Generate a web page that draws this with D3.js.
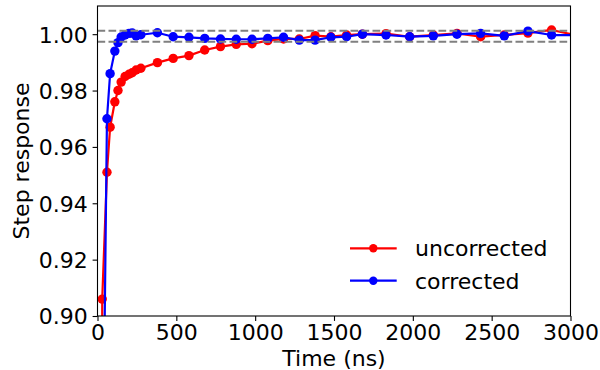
<!DOCTYPE html>
<html>
<head>
<meta charset="utf-8">
<script src="https://cdn.jsdelivr.net/npm/d3@7/dist/d3.min.js"></script>
<style>
  body { margin: 0; background: #fff; }
  svg text { font-family: "DejaVu Sans", sans-serif; fill: #000; }
</style>
</head>
<body>
<svg id="chart" width="600" height="370"></svg>
<script>
// Sample times (ns) shared by both traces
const timeNs = [0, 30, 60, 80, 110, 130, 150, 175, 200, 220, 245, 275,
  380, 480, 580, 680, 780, 880, 980, 1080, 1180, 1280, 1380, 1480, 1580,
  1680, 1830, 1980, 2130, 2280, 2430, 2580, 2730, 2880, 3030];

// Normalised step response before correction
const uncorrected = [0.0, 0.906, 0.951, 0.967, 0.976, 0.980, 0.983, 0.985,
  0.9858, 0.9863, 0.9873, 0.9879, 0.9899, 0.9914, 0.9924, 0.9944, 0.9956,
  0.9964, 0.9966, 0.9977, 0.9983, 0.9983, 0.9995, 0.9991, 0.9997, 1.0000,
  1.0002, 0.9991, 0.9997, 1.0003, 0.9991, 0.9997, 1.0004, 1.0015, 0.9997];

// Normalised step response after correction
const corrected = [0.0, 0.82, 0.970, 0.986, 0.994, 0.997, 0.999, 0.9997,
  1.0003, 1.0004, 0.9994, 0.9998, 1.0005, 0.9991, 0.9989, 0.9985, 0.9983,
  0.9982, 0.9982, 0.9985, 0.9989, 0.9979, 0.9979, 0.9989, 0.9991, 1.0000,
  0.9997, 0.9991, 0.9994, 1.0000, 1.0003, 0.9994, 1.0011, 0.9997, 0.9997];

// Tolerance band drawn as dashed horizontal lines
const toleranceBand = [1.0012, 0.9973];

const xTicks = [0, 500, 1000, 1500, 2000, 2500, 3000];
const yTicks = [0.90, 0.92, 0.94, 0.96, 0.98, 1.00];
const xDomain = [0, 3000];
const yDomain = [0.90, 1.01];

const series = [
  { name: "uncorrected", color: "#ff0000", values: uncorrected },
  { name: "corrected", color: "#0000ff", values: corrected }
];

const W = 600, H = 370;
const m = { left: 97.5, right: 29.5, top: 6, bottom: 54 };
const iw = W - m.left - m.right, ih = H - m.top - m.bottom;

const svg = d3.select("#chart");
const g = svg.append("g").attr("transform", `translate(${m.left},${m.top})`);

const x = d3.scaleLinear().domain(xDomain).range([0, iw]);
const y = d3.scaleLinear().domain(yDomain).range([ih, 0]);

svg.append("defs").append("clipPath").attr("id", "plot-clip")
  .append("rect").attr("x", 0).attr("y", 0).attr("width", iw).attr("height", ih);

const plot = g.append("g").attr("clip-path", "url(#plot-clip)");

const line = d3.line().x((d, i) => x(timeNs[i])).y(d => y(d));

series.forEach(s => {
  plot.append("path")
    .attr("d", line(s.values))
    .attr("fill", "none")
    .attr("stroke", s.color)
    .attr("stroke-width", 2.2)
    .attr("stroke-linejoin", "round");
  plot.selectAll(null).data(s.values).enter().append("circle")
    .attr("cx", (d, i) => x(timeNs[i]))
    .attr("cy", d => y(d))
    .attr("r", 4.7)
    .attr("fill", s.color);
});

// Dashed tolerance lines
plot.selectAll(".tol").data(toleranceBand).enter().append("line")
  .attr("x1", 0).attr("x2", iw)
  .attr("y1", d => y(d)).attr("y2", d => y(d))
  .attr("stroke", "#808080")
  .attr("stroke-width", 2.08)
  .attr("stroke-dasharray", "7.7,3.3");

// Axes
const fs = 22;
const xAxis = g.append("g").attr("transform", `translate(0,${ih})`)
  .call(d3.axisBottom(x).tickValues(xTicks).tickFormat(d3.format("d"))
    .tickSize(4.9).tickPadding(4.9).tickSizeOuter(0));
xAxis.selectAll("text").attr("font-size", fs).attr("dy", "0.66em");

const yAxis = g.append("g")
  .call(d3.axisLeft(y).tickValues(yTicks).tickFormat(d3.format(".2f"))
    .tickSize(4.9).tickPadding(4.9).tickSizeOuter(0));
yAxis.selectAll("text").attr("font-size", fs).attr("dy", "0.36em");

[xAxis, yAxis].forEach(a => {
  a.select(".domain").remove();
  a.selectAll("line").attr("stroke", "#000").attr("stroke-width", 1.1);
});

// Frame
g.append("rect").attr("x", 0).attr("y", 0).attr("width", iw).attr("height", ih)
  .attr("fill", "none").attr("stroke", "#000").attr("stroke-width", 1.1);

// Axis titles
svg.append("text").attr("x", m.left + iw / 2).attr("y", 366)
  .attr("text-anchor", "middle").attr("font-size", fs).text("Time (ns)");
svg.append("text")
  .attr("transform", `translate(28.5,${m.top + ih / 2}) rotate(-90)`)
  .attr("text-anchor", "middle").attr("font-size", fs).text("Step response");

// Legend
const legend = svg.append("g");
series.forEach((s, i) => {
  const ly = 248.3 + i * 32.4;
  legend.append("line").attr("x1", 350).attr("x2", 396.7)
    .attr("y1", ly).attr("y2", ly)
    .attr("stroke", s.color).attr("stroke-width", 2.2);
  legend.append("circle").attr("cx", 373.3).attr("cy", ly).attr("r", 4.2)
    .attr("fill", s.color);
  legend.append("text").attr("x", 415).attr("y", ly).attr("dy", "0.36em")
    .attr("font-size", fs).text(s.name);
});
</script>
</body>
</html>
